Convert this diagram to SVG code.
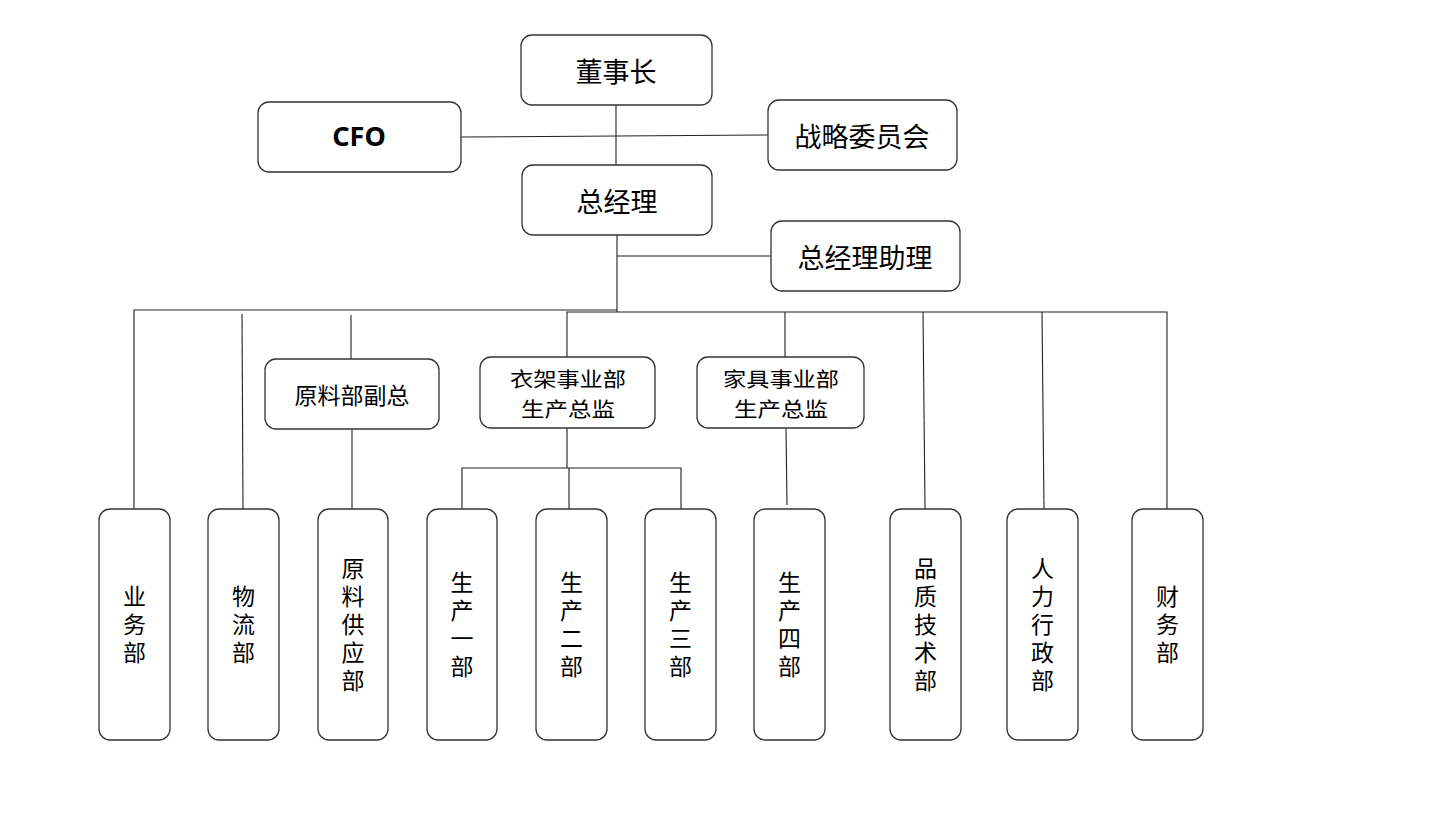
<svg xmlns="http://www.w3.org/2000/svg" width="1435" height="826" viewBox="0 0 1435 826">
<style>
.box{fill:#fff;stroke:#333;stroke-width:1.3}
.ln{fill:none;stroke:#222;stroke-width:1.1}
text{font-family:"Noto Sans CJK SC","Noto Sans",sans-serif;fill:#000;text-anchor:middle;dominant-baseline:central}
.t26{font-size:27px}
.t22{font-size:23px}
.t2{font-size:20.5px}
.v{font-size:23px;writing-mode:vertical-rl;letter-spacing:5px}
.b{font-family:"Noto Sans","Liberation Sans",sans-serif;font-weight:bold;font-size:27px}
</style>
<rect width="1435" height="826" fill="#fff"/>
<g id="connectors">
<line class="ln" x1="616" y1="105" x2="616" y2="165"/>
<line class="ln" x1="461" y1="137" x2="768" y2="135"/>
<line class="ln" x1="617" y1="235" x2="617" y2="312"/>
<line class="ln" x1="617" y1="256" x2="771" y2="256"/>
<polyline class="ln" points="134,509 134,310 617,310"/>
<polyline class="ln" points="567,357 567,312 1167,312 1167,509"/>
<line class="ln" x1="242" y1="314" x2="243" y2="509"/>
<line class="ln" x1="351" y1="315" x2="351" y2="359"/>
<line class="ln" x1="785" y1="312" x2="785" y2="357"/>
<line class="ln" x1="923" y1="312" x2="925" y2="509"/>
<line class="ln" x1="1042" y1="312" x2="1044" y2="509"/>
<line class="ln" x1="352" y1="429" x2="352" y2="509"/>
<line class="ln" x1="567" y1="428" x2="567" y2="468"/>
<polyline class="ln" points="462,509 462,468 681,468 681,509"/>
<line class="ln" x1="569" y1="468" x2="569" y2="509"/>
<line class="ln" x1="786" y1="428" x2="787" y2="505"/>
</g>
<g id="chairman"><rect class="box" x="521" y="35" width="191" height="70" rx="11"/><text class="t26" x="616" y="70">董事长</text></g>
<g id="cfo"><rect class="box" x="258" y="102" width="203" height="70" rx="11"/><text class="b" x="359" y="135">CFO</text></g>
<g id="strategy"><rect class="box" x="768" y="100" width="189" height="70" rx="11"/><text class="t26" x="862" y="135">战略委员会</text></g>
<g id="gm"><rect class="box" x="522" y="165" width="190" height="70" rx="11"/><text class="t26" x="617" y="200">总经理</text></g>
<g id="gm-assistant"><rect class="box" x="771" y="221" width="189" height="70" rx="11"/><text class="t26" x="865" y="256">总经理助理</text></g>
<g id="material-vp"><rect class="box" x="265" y="359" width="174" height="70" rx="11"/><text class="t22" x="352" y="393.5">原料部副总</text></g>
<g id="hanger-director"><rect class="box" x="480" y="357" width="175" height="71" rx="11"/><text class="t2" x="568" y="377.5" textLength="116" lengthAdjust="spacingAndGlyphs">衣架事业部</text><text class="t2" x="568" y="407.5" textLength="94" lengthAdjust="spacingAndGlyphs">生产总监</text></g>
<g id="furniture-director"><rect class="box" x="697" y="357" width="167" height="71" rx="11"/><text class="t2" x="781" y="377.5" textLength="116" lengthAdjust="spacingAndGlyphs">家具事业部</text><text class="t2" x="781" y="407.5" textLength="94" lengthAdjust="spacingAndGlyphs">生产总监</text></g>
<g id="sales"><rect class="box" x="99" y="509" width="71" height="231" rx="11"/><text class="v" x="134.5" y="627">业务部</text></g>
<g id="logistics"><rect class="box" x="208" y="509" width="71" height="231" rx="11"/><text class="v" x="243.5" y="627">物流部</text></g>
<g id="material-supply"><rect class="box" x="318" y="509" width="70" height="231" rx="11"/><text class="v" x="353" y="627">原料供应部</text></g>
<g id="prod1"><rect class="box" x="427" y="509" width="70" height="231" rx="11"/><text class="v" x="462" y="627">生产一部</text></g>
<g id="prod2"><rect class="box" x="536" y="509" width="71" height="231" rx="11"/><text class="v" x="571.5" y="627">生产二部</text></g>
<g id="prod3"><rect class="box" x="645" y="509" width="71" height="231" rx="11"/><text class="v" x="680.5" y="627">生产三部</text></g>
<g id="prod4"><rect class="box" x="754" y="509" width="71" height="231" rx="11"/><text class="v" x="789.5" y="627">生产四部</text></g>
<g id="quality"><rect class="box" x="890" y="509" width="71" height="231" rx="11"/><text class="v" x="925.5" y="627">品质技术部</text></g>
<g id="hr"><rect class="box" x="1007" y="509" width="71" height="231" rx="11"/><text class="v" x="1042.5" y="627">人力行政部</text></g>
<g id="finance"><rect class="box" x="1132" y="509" width="71" height="231" rx="11"/><text class="v" x="1167.5" y="627">财务部</text></g>
</svg>
